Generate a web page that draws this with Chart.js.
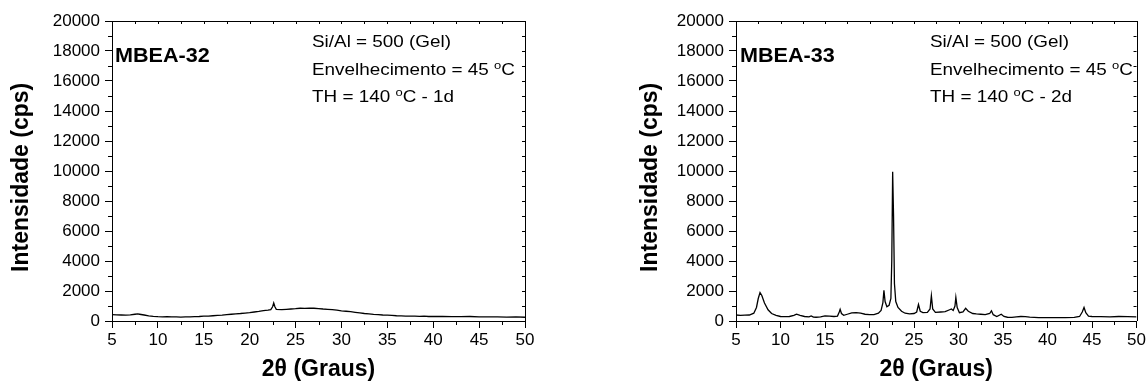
<!DOCTYPE html>
<html>
<head>
<meta charset="utf-8">
<script src="https://cdn.jsdelivr.net/npm/chart.js@4.4.0/dist/chart.umd.min.js"></script>
<style>
  html, body { margin: 0; padding: 0; background: #fff; }
  body { width: 1148px; height: 383px; position: relative; overflow: hidden; }
  canvas { position: absolute; top: 0; }
  #c1 { left: 0px; }
  #c2 { left: 624px; }
</style>
</head>
<body>
<canvas id="c1" width="574" height="383"></canvas>
<canvas id="c2" width="524" height="383"></canvas>
<script>
// ---- Data ----
const m32X = [5.0,5.5,6.0,6.5,7.0,7.5,7.8,8.0,8.5,9.0,9.5,10.0,10.5,11.0,11.5,12.0,12.5,13.0,13.5,14.0,14.5,15.0,15.5,16.0,16.5,17.0,17.5,18.0,18.5,19.0,19.5,20.0,20.5,21.0,21.5,22.0,22.3,22.5,22.62,22.75,22.9,23.5,24.0,24.5,25.0,25.5,26.0,26.5,27.0,27.5,28.0,28.5,29.0,29.5,30.0,30.5,31.0,31.5,32.0,32.5,33.0,33.5,34.0,34.5,35.0,35.5,36.0,36.5,37.0,37.5,38.0,38.5,39.0,39.5,40.0,41,42,43,44,45,46,47,48,49,50];
const m32Y = [430,410,400,390,410,450,470,450,400,340,310,290,280,285,270,275,265,280,270,290,300,320,330,350,370,390,420,450,480,500,530,560,600,640,690,720,760,950,1200,950,780,760,780,800,820,850,840,860,850,830,800,780,760,720,680,650,620,580,540,500,470,440,420,400,390,370,350,340,330,320,320,310,320,300,310,300,290,290,300,280,270,280,260,270,250];

const m33X = [5,5.5,6,6.5,7.0,7.3,7.5,7.7,7.9,8.2,8.6,9.0,9.5,10,10.5,11,11.5,11.8,12.2,12.7,13.2,13.45,13.7,14,14.5,15,15.5,16,16.4,16.6,16.7,16.85,17.1,17.5,18,18.5,19,19.5,20,20.5,21,21.3,21.5,21.62,21.75,21.95,22.2,22.4,22.5,22.6,22.7,22.8,22.95,23.2,23.6,24,24.5,25,25.3,25.5,25.7,26,26.5,26.8,26.95,27.1,27.4,28,28.5,29,29.2,29.4,29.6,29.7,29.85,30.1,30.5,30.8,31.1,31.6,32,32.5,33,33.5,33.7,33.9,34.3,34.8,35.1,35.5,36,36.5,37,37.5,38,39,40,41,42,43,43.6,43.9,44.1,44.3,44.6,45,46,47,48,49,50];
const m33Y = [400,380,390,400,520,900,1500,1900,1700,1200,750,500,380,300,290,300,380,460,380,300,280,340,260,250,280,340,320,300,330,600,780,500,380,450,540,560,520,450,420,430,520,700,1200,2050,1300,950,1050,1500,4000,9950,7000,2500,1300,900,650,520,480,500,600,1100,650,560,580,800,1680,800,580,600,620,750,800,700,1000,1580,900,550,600,850,650,500,470,450,430,500,680,420,300,450,300,250,240,280,300,290,260,230,220,220,230,240,300,600,900,550,330,300,290,280,300,290,270];

const xTickStep = 5, yTickStep = 2000;
const xMin = 5, xMax = 50, yMin = 0, yMax = 20000;

const FAMILY = "'Liberation Sans', Arial, sans-serif";

// ---- Extra frame ticks + annotation text plugin ----
const decor = {
  id: 'decor',
  afterDraw(chart, args, opts) {
    const ctx = chart.ctx, a = chart.chartArea;
    const x = chart.scales.x, y = chart.scales.y;
    ctx.save();
    ctx.strokeStyle = '#000';
    ctx.lineWidth = 1;
    ctx.beginPath();
    ctx.moveTo(a.left, Math.round(a.top) + 0.5);
    ctx.lineTo(a.right + 0.5, Math.round(a.top) + 0.5);
    ctx.moveTo(Math.round(a.right) + 0.5, a.top);
    ctx.lineTo(Math.round(a.right) + 0.5, a.bottom);
    for (let v = xMin; v <= xMax + 1e-9; v += xTickStep / 2) {
      const px = Math.round(x.getPixelForValue(v)) + 0.5;
      const isMajor = Math.abs((v - xMin) % xTickStep) < 1e-9;
      if (!isMajor) { ctx.moveTo(px, a.bottom); ctx.lineTo(px, a.bottom + 4); }
      ctx.moveTo(px, a.top); ctx.lineTo(px, a.top + 3);
    }
    for (let v = yMin; v <= yMax + 1e-9; v += yTickStep / 2) {
      const py = Math.round(y.getPixelForValue(v)) + 0.5;
      const isMajor = Math.abs(v % yTickStep) < 1e-9;
      if (!isMajor) { ctx.moveTo(a.left, py); ctx.lineTo(a.left - 4, py); }
      ctx.moveTo(a.right, py); ctx.lineTo(a.right - 3, py);
    }
    ctx.stroke();

    ctx.fillStyle = '#000';
    ctx.textBaseline = 'alphabetic';
    ctx.textAlign = 'left';
    ctx.save();
    ctx.translate(opts.labelX, opts.labelY);
    ctx.scale(1.08, 1);
    ctx.font = "bold 20px " + FAMILY;
    ctx.fillText(opts.label, 0, 0);
    ctx.restore();
    const big = "16px " + FAMILY, small = "11px " + FAMILY;
    opts.lines.forEach((parts, i) => {
      ctx.save();
      ctx.translate(opts.textX, opts.textYs[i]);
      ctx.scale(1.18, 1.05);
      let cx = 0;
      parts.forEach(p => {
        ctx.font = p.sup ? small : big;
        ctx.fillText(p.t, cx, p.sup ? -6 : 0);
        cx += ctx.measureText(p.t).width;
      });
      ctx.restore();
    });
    ctx.restore();
  }
};

function toPoints(xs, ys) { return xs.map((v, i) => ({ x: v, y: ys[i] })); }

function makeChart(id, xs, ys, rightPad, yTitlePad, decorOpts) {
  return new Chart(document.getElementById(id), {
    type: 'scatter',
    data: {
      datasets: [{
        data: toPoints(xs, ys),
        showLine: true,
        borderColor: '#000',
        borderWidth: 1.3,
        pointRadius: 0,
        tension: 0,
        fill: false
      }]
    },
    options: {
      responsive: false,
      animation: false,
      devicePixelRatio: 1,
      events: [],
      layout: { padding: { top: 21, right: rightPad, left: 0, bottom: 0 } },
      plugins: {
        legend: { display: false },
        tooltip: { enabled: false },
        decor: decorOpts
      },
      scales: {
        x: {
          type: 'linear',
          min: xMin, max: xMax,
          afterFit: s => { s.height = 62; },
          ticks: {
            stepSize: xTickStep,
            color: '#000',
            font: { family: FAMILY, size: 17 },
            padding: 2,
            maxRotation: 0,
            callback: v => String(v)
          },
          grid: { display: true, drawOnChartArea: false, drawTicks: true, tickLength: 7, color: '#000', lineWidth: 1 },
          border: { display: true, color: '#000', width: 1 },
          title: {
            display: true,
            text: '2θ (Graus)',
            color: '#000',
            font: { family: FAMILY, size: 23, weight: 'bold' },
            padding: { top: 0, bottom: 0 }
          }
        },
        y: {
          type: 'linear',
          min: yMin, max: yMax,
          afterFit: s => { s.width = 112; },
          ticks: {
            stepSize: yTickStep,
            color: '#000',
            font: { family: FAMILY, size: 17 },
            padding: 5,
            callback: v => String(v)
          },
          grid: { display: true, drawOnChartArea: false, drawTicks: true, tickLength: 7, color: '#000', lineWidth: 1 },
          border: { display: true, color: '#000', width: 1 },
          title: {
            display: true,
            text: 'Intensidade (cps)  ',
            color: '#000',
            font: { family: FAMILY, size: 23, weight: 'bold' },
            padding: { top: yTitlePad, bottom: 0 }
          }
        }
      }
    },
    plugins: [decor]
  });
}

makeChart('c1', m32X, m32Y, 49, 8, {
  label: 'MBEA-32', labelX: 115, labelY: 62,
  textX: 312, textYs: [47, 75, 102],
  lines: [
    [{ t: 'Si/Al = 500 (Gel)' }],
    [{ t: 'Envelhecimento = 45 ' }, { t: 'o', sup: true }, { t: 'C' }],
    [{ t: 'TH = 140 ' }, { t: 'o', sup: true }, { t: 'C - 1d' }]
  ]
});

makeChart('c2', m33X, m33Y, 10, 13, {
  label: 'MBEA-33', labelX: 116, labelY: 62,
  textX: 306, textYs: [47, 75, 102],
  lines: [
    [{ t: 'Si/Al = 500 (Gel)' }],
    [{ t: 'Envelhecimento = 45 ' }, { t: 'o', sup: true }, { t: 'C' }],
    [{ t: 'TH = 140 ' }, { t: 'o', sup: true }, { t: 'C - 2d' }]
  ]
});
</script>
</body>
</html>
